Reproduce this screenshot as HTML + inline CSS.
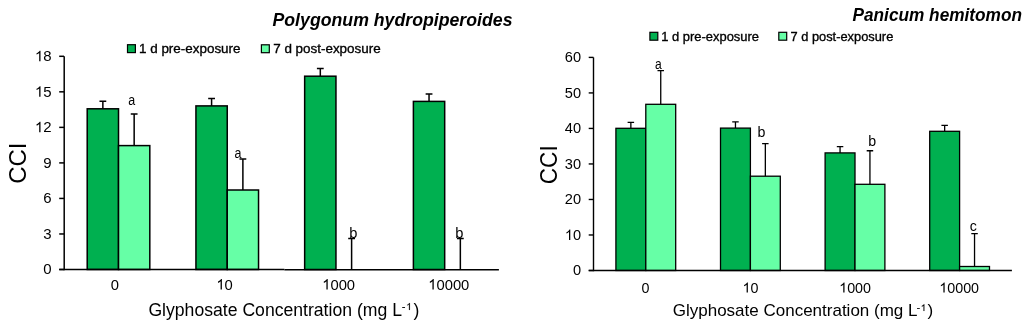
<!DOCTYPE html><html><head><meta charset="utf-8"><style>html,body{margin:0;padding:0;background:#fff;width:1024px;height:324px;overflow:hidden}svg{display:block;will-change:transform}text{font-family:"Liberation Sans",sans-serif;fill:#000}</style></head><body>
<svg width="1024" height="324" viewBox="0 0 1024 324">
<rect x="87.21" y="108.80" width="31.30" height="160.70" fill="#00B050" stroke="#000" stroke-width="1.5"/>
<rect x="118.51" y="145.60" width="31.30" height="123.90" fill="#66FFA6" stroke="#000" stroke-width="1.5"/>
<path d="M102.86,108.80V101.20M99.46,101.20H106.26" stroke="#000" stroke-width="1.5" fill="none"/>
<path d="M134.16,145.60V114.10M130.76,114.10H137.56" stroke="#000" stroke-width="1.5" fill="none"/>
<rect x="195.94" y="105.90" width="31.30" height="163.60" fill="#00B050" stroke="#000" stroke-width="1.5"/>
<rect x="227.24" y="190.00" width="31.30" height="79.50" fill="#66FFA6" stroke="#000" stroke-width="1.5"/>
<path d="M211.59,105.90V98.50M208.19,98.50H214.99" stroke="#000" stroke-width="1.5" fill="none"/>
<path d="M242.89,190.00V159.00M239.49,159.00H246.29" stroke="#000" stroke-width="1.5" fill="none"/>
<rect x="304.66" y="76.20" width="31.30" height="193.30" fill="#00B050" stroke="#000" stroke-width="1.5"/>
<path d="M320.31,76.20V68.60M316.91,68.60H323.71" stroke="#000" stroke-width="1.5" fill="none"/>
<path d="M351.61,269.50V238.60M348.21,238.60H355.01" stroke="#000" stroke-width="1.5" fill="none"/>
<rect x="413.39" y="101.40" width="31.30" height="168.10" fill="#00B050" stroke="#000" stroke-width="1.5"/>
<path d="M429.04,101.40V94.00M425.64,94.00H432.44" stroke="#000" stroke-width="1.5" fill="none"/>
<path d="M460.34,269.50V238.60M456.94,238.60H463.74" stroke="#000" stroke-width="1.5" fill="none"/>
<path d="M64.20,56.30V270.25" stroke="#000" stroke-width="1.5" fill="none"/>
<path d="M59.20,269.50H284.40" stroke="#000" stroke-width="1.3" fill="none"/>
<path d="M284.40,269.75H498.90" stroke="#000" stroke-width="1.6" fill="none"/>
<path d="M59.20,269.50H64.00" stroke="#000" stroke-width="1.5" fill="none"/>
<g transform="matrix(1,0,0,1.035,0,-9.607)">
<text x="43.26" y="274.50" font-size="15.0" xml:space="preserve">0</text>
</g>
<path d="M59.20,233.97H64.00" stroke="#000" stroke-width="1.5" fill="none"/>
<g transform="matrix(1,0,0,1.035,0,-8.364)">
<text x="43.26" y="238.97" font-size="15.0" xml:space="preserve">3</text>
</g>
<path d="M59.20,198.43H64.00" stroke="#000" stroke-width="1.5" fill="none"/>
<g transform="matrix(1,0,0,1.035,0,-7.120)">
<text x="43.26" y="203.43" font-size="15.0" xml:space="preserve">6</text>
</g>
<path d="M59.20,162.90H64.00" stroke="#000" stroke-width="1.5" fill="none"/>
<g transform="matrix(1,0,0,1.035,0,-5.876)">
<text x="43.26" y="167.90" font-size="15.0" xml:space="preserve">9</text>
</g>
<path d="M59.20,127.37H64.00" stroke="#000" stroke-width="1.5" fill="none"/>
<g transform="matrix(1,0,0,1.035,0,-4.633)">
<text x="34.92" y="132.37" font-size="15.0" xml:space="preserve"> 2</text>
<path d="M583,0 L763,0 L763,1409 L646,1409 C615,1350 563,1288 490,1225 C417,1161 328,1106 222,1061 L222,894 C281,915 348,946 424,985 C500,1025 553,1063 583,1100 Z" transform="translate(34.92,132.37) scale(0.00732,-0.00732)"/>
</g>
<path d="M59.20,91.83H64.00" stroke="#000" stroke-width="1.5" fill="none"/>
<g transform="matrix(1,0,0,1.035,0,-3.389)">
<text x="34.92" y="96.83" font-size="15.0" xml:space="preserve"> 5</text>
<path d="M583,0 L763,0 L763,1409 L646,1409 C615,1350 563,1288 490,1225 C417,1161 328,1106 222,1061 L222,894 C281,915 348,946 424,985 C500,1025 553,1063 583,1100 Z" transform="translate(34.92,96.83) scale(0.00732,-0.00732)"/>
</g>
<path d="M59.20,56.30H64.00" stroke="#000" stroke-width="1.5" fill="none"/>
<g transform="matrix(1,0,0,1.035,0,-2.145)">
<text x="34.92" y="61.30" font-size="15.0" xml:space="preserve"> 8</text>
<path d="M583,0 L763,0 L763,1409 L646,1409 C615,1350 563,1288 490,1225 C417,1161 328,1106 222,1061 L222,894 C281,915 348,946 424,985 C500,1025 553,1063 583,1100 Z" transform="translate(34.92,61.30) scale(0.00732,-0.00732)"/>
</g>
<rect x="615.91" y="128.30" width="29.89" height="142.20" fill="#00B050" stroke="#000" stroke-width="1.3"/>
<rect x="645.80" y="104.30" width="29.89" height="166.20" fill="#66FFA6" stroke="#000" stroke-width="1.3"/>
<path d="M630.86,128.30V122.30M627.61,122.30H634.11" stroke="#000" stroke-width="1.3" fill="none"/>
<path d="M660.74,104.30V70.60M657.49,70.60H663.99" stroke="#000" stroke-width="1.3" fill="none"/>
<rect x="720.51" y="128.10" width="29.89" height="142.40" fill="#00B050" stroke="#000" stroke-width="1.3"/>
<rect x="750.40" y="176.20" width="29.89" height="94.30" fill="#66FFA6" stroke="#000" stroke-width="1.3"/>
<path d="M735.46,128.10V121.90M732.21,121.90H738.71" stroke="#000" stroke-width="1.3" fill="none"/>
<path d="M765.34,176.20V143.70M762.09,143.70H768.59" stroke="#000" stroke-width="1.3" fill="none"/>
<rect x="825.11" y="152.90" width="29.89" height="117.60" fill="#00B050" stroke="#000" stroke-width="1.3"/>
<rect x="855.00" y="184.30" width="29.89" height="86.20" fill="#66FFA6" stroke="#000" stroke-width="1.3"/>
<path d="M840.06,152.90V146.70M836.81,146.70H843.31" stroke="#000" stroke-width="1.3" fill="none"/>
<path d="M869.94,184.30V150.75M866.69,150.75H873.19" stroke="#000" stroke-width="1.3" fill="none"/>
<rect x="929.71" y="131.30" width="29.89" height="139.20" fill="#00B050" stroke="#000" stroke-width="1.3"/>
<rect x="959.60" y="266.50" width="29.89" height="4.00" fill="#66FFA6" stroke="#000" stroke-width="1.3"/>
<path d="M944.66,131.30V125.40M941.41,125.40H947.91" stroke="#000" stroke-width="1.3" fill="none"/>
<path d="M974.54,266.50V233.60M971.29,233.60H977.79" stroke="#000" stroke-width="1.3" fill="none"/>
<path d="M593.50,57.40V271.20" stroke="#000" stroke-width="1.4" fill="none"/>
<path d="M588.70,270.50H1011.90" stroke="#000" stroke-width="1.4" fill="none"/>
<path d="M588.70,270.50H593.50" stroke="#000" stroke-width="1.4" fill="none"/>
<g transform="matrix(1,0,0,1.035,0,-9.642)">
<text x="572.98" y="275.50" font-size="14.6" xml:space="preserve">0</text>
</g>
<path d="M588.70,234.98H593.50" stroke="#000" stroke-width="1.4" fill="none"/>
<g transform="matrix(1,0,0,1.035,0,-8.399)">
<text x="564.86" y="239.98" font-size="14.6" xml:space="preserve"> 0</text>
<path d="M583,0 L763,0 L763,1409 L646,1409 C615,1350 563,1288 490,1225 C417,1161 328,1106 222,1061 L222,894 C281,915 348,946 424,985 C500,1025 553,1063 583,1100 Z" transform="translate(564.86,239.98) scale(0.00713,-0.00713)"/>
</g>
<path d="M588.70,199.47H593.50" stroke="#000" stroke-width="1.4" fill="none"/>
<g transform="matrix(1,0,0,1.035,0,-7.156)">
<text x="564.86" y="204.47" font-size="14.6" xml:space="preserve">20</text>
</g>
<path d="M588.70,163.95H593.50" stroke="#000" stroke-width="1.4" fill="none"/>
<g transform="matrix(1,0,0,1.035,0,-5.913)">
<text x="564.86" y="168.95" font-size="14.6" xml:space="preserve">30</text>
</g>
<path d="M588.70,128.43H593.50" stroke="#000" stroke-width="1.4" fill="none"/>
<g transform="matrix(1,0,0,1.035,0,-4.670)">
<text x="564.86" y="133.43" font-size="14.6" xml:space="preserve">40</text>
</g>
<path d="M588.70,92.92H593.50" stroke="#000" stroke-width="1.4" fill="none"/>
<g transform="matrix(1,0,0,1.035,0,-3.427)">
<text x="564.86" y="97.92" font-size="14.6" xml:space="preserve">50</text>
</g>
<path d="M588.70,57.40H593.50" stroke="#000" stroke-width="1.4" fill="none"/>
<g transform="matrix(1,0,0,1.035,0,-2.184)">
<text x="564.86" y="62.40" font-size="14.6" xml:space="preserve">60</text>
</g>
<text transform="translate(131.8,104.5) scale(0.85,1.03)" text-anchor="middle" font-size="14.67">a</text>
<text transform="translate(237.9,157.9) scale(0.85,1.03)" text-anchor="middle" font-size="14.67">a</text>
<text transform="translate(353.4,237.7) scale(1.0,1.03)" text-anchor="middle" font-size="14.67">b</text>
<text transform="translate(459.4,237.8) scale(1.0,1.03)" text-anchor="middle" font-size="14.67">b</text>
<text transform="translate(658.4,69.1) scale(0.85,1.03)" text-anchor="middle" font-size="14.2">a</text>
<text transform="translate(761.4,137.1) scale(1.0,1.03)" text-anchor="middle" font-size="14.2">b</text>
<text transform="translate(872.1,145.8) scale(1.0,1.03)" text-anchor="middle" font-size="14.2">b</text>
<text transform="translate(973.2,231.3) scale(1.0,1.03)" text-anchor="middle" font-size="14.2">c</text>
<g transform="matrix(1,0,0,1.035,0,-10.132)">
<text x="110.63" y="289.50" font-size="14.8" xml:space="preserve">0</text>
</g>
<g transform="matrix(1,0,0,1.035,0,-10.132)">
<text x="216.37" y="289.50" font-size="14.8" xml:space="preserve"> 0</text>
<path d="M583,0 L763,0 L763,1409 L646,1409 C615,1350 563,1288 490,1225 C417,1161 328,1106 222,1061 L222,894 C281,915 348,946 424,985 C500,1025 553,1063 583,1100 Z" transform="translate(216.37,289.50) scale(0.00723,-0.00723)"/>
</g>
<g transform="matrix(1,0,0,1.035,0,-10.132)">
<text x="322.19" y="289.50" font-size="14.8" xml:space="preserve"> 000</text>
<path d="M583,0 L763,0 L763,1409 L646,1409 C615,1350 563,1288 490,1225 C417,1161 328,1106 222,1061 L222,894 C281,915 348,946 424,985 C500,1025 553,1063 583,1100 Z" transform="translate(322.19,289.50) scale(0.00723,-0.00723)"/>
</g>
<g transform="matrix(1,0,0,1.035,0,-10.132)">
<text x="428.22" y="289.50" font-size="14.8" xml:space="preserve"> 0000</text>
<path d="M583,0 L763,0 L763,1409 L646,1409 C615,1350 563,1288 490,1225 C417,1161 328,1106 222,1061 L222,894 C281,915 348,946 424,985 C500,1025 553,1063 583,1100 Z" transform="translate(428.22,289.50) scale(0.00723,-0.00723)"/>
</g>
<g transform="matrix(1,0,0,1.035,0,-10.241)">
<text x="641.57" y="292.60" font-size="14.3" xml:space="preserve">0</text>
</g>
<g transform="matrix(1,0,0,1.035,0,-10.241)">
<text x="742.55" y="292.60" font-size="14.3" xml:space="preserve"> 0</text>
<path d="M583,0 L763,0 L763,1409 L646,1409 C615,1350 563,1288 490,1225 C417,1161 328,1106 222,1061 L222,894 C281,915 348,946 424,985 C500,1025 553,1063 583,1100 Z" transform="translate(742.55,292.60) scale(0.00698,-0.00698)"/>
</g>
<g transform="matrix(1,0,0,1.035,0,-10.241)">
<text x="839.19" y="292.60" font-size="14.3" xml:space="preserve"> 000</text>
<path d="M583,0 L763,0 L763,1409 L646,1409 C615,1350 563,1288 490,1225 C417,1161 328,1106 222,1061 L222,894 C281,915 348,946 424,985 C500,1025 553,1063 583,1100 Z" transform="translate(839.19,292.60) scale(0.00698,-0.00698)"/>
</g>
<g transform="matrix(1,0,0,1.035,0,-10.241)">
<text x="939.32" y="292.60" font-size="14.3" xml:space="preserve"> 0000</text>
<path d="M583,0 L763,0 L763,1409 L646,1409 C615,1350 563,1288 490,1225 C417,1161 328,1106 222,1061 L222,894 C281,915 348,946 424,985 C500,1025 553,1063 583,1100 Z" transform="translate(939.32,292.60) scale(0.00698,-0.00698)"/>
</g>
<text transform="translate(26.2,163.2) rotate(-90)" text-anchor="middle" font-size="24">CCI</text>
<text transform="translate(556.9,164.75) rotate(-90) scale(0.964,1.03)" text-anchor="middle" font-size="23.5">CCI</text>
<text x="148.41" y="315.6" font-size="17.62" xml:space="preserve">Glyphosate Concentration (mg L</text>
<text x="402.06" y="309.9" font-size="10" stroke="#000" stroke-width="0.3">-</text>
<path d="M583,0 L763,0 L763,1409 L646,1409 C615,1350 563,1288 490,1225 C417,1161 328,1106 222,1061 L222,894 C281,915 348,946 424,985 C500,1025 553,1063 583,1100 Z" transform="translate(406.12,309.9) scale(0.00488,-0.00488)" stroke="#000" stroke-width="30.7"/>
<text x="413.43" y="315.6" font-size="17.62">)</text>
<text x="672.74" y="315.8" font-size="17.00" xml:space="preserve">Glyphosate Concentration (mg L</text>
<text x="916.87" y="310.9" font-size="9.7" stroke="#000" stroke-width="0.3">-</text>
<path d="M583,0 L763,0 L763,1409 L646,1409 C615,1350 563,1288 490,1225 C417,1161 328,1106 222,1061 L222,894 C281,915 348,946 424,985 C500,1025 553,1063 583,1100 Z" transform="translate(920.75,310.9) scale(0.00474,-0.00474)" stroke="#000" stroke-width="31.7"/>
<text x="927.59" y="315.8" font-size="17.00">)</text>
<text x="272.5" y="26.4" font-size="18" font-weight="bold" font-style="italic" textLength="240" lengthAdjust="spacingAndGlyphs">Polygonum hydropiperoides</text>
<text x="852.5" y="21.1" font-size="17.8" font-weight="bold" font-style="italic" textLength="169.5" lengthAdjust="spacingAndGlyphs">Panicum hemitomon</text>
<rect x="127.50" y="44.70" width="7.90" height="7.90" fill="#00B050" stroke="#000" stroke-width="1.2"/>
<text x="139.0" y="53.0" font-size="13.4" textLength="101.5" lengthAdjust="spacingAndGlyphs" stroke="#000" stroke-width="0.35">1 d pre-exposure</text>
<rect x="261.40" y="44.80" width="7.90" height="7.90" fill="#66FFA6" stroke="#000" stroke-width="1.2"/>
<text x="273.2" y="53.0" font-size="13.4" textLength="107.5" lengthAdjust="spacingAndGlyphs" stroke="#000" stroke-width="0.35">7 d post-exposure</text>
<rect x="649.90" y="32.30" width="7.90" height="7.90" fill="#00B050" stroke="#000" stroke-width="1.2"/>
<text x="661.2" y="40.7" font-size="13.0" textLength="97.8" lengthAdjust="spacingAndGlyphs" stroke="#000" stroke-width="0.35">1 d pre-exposure</text>
<rect x="778.80" y="32.30" width="7.90" height="7.90" fill="#66FFA6" stroke="#000" stroke-width="1.2"/>
<text x="790.5" y="40.7" font-size="13.0" textLength="102.8" lengthAdjust="spacingAndGlyphs" stroke="#000" stroke-width="0.35">7 d post-exposure</text>
</svg></body></html>
